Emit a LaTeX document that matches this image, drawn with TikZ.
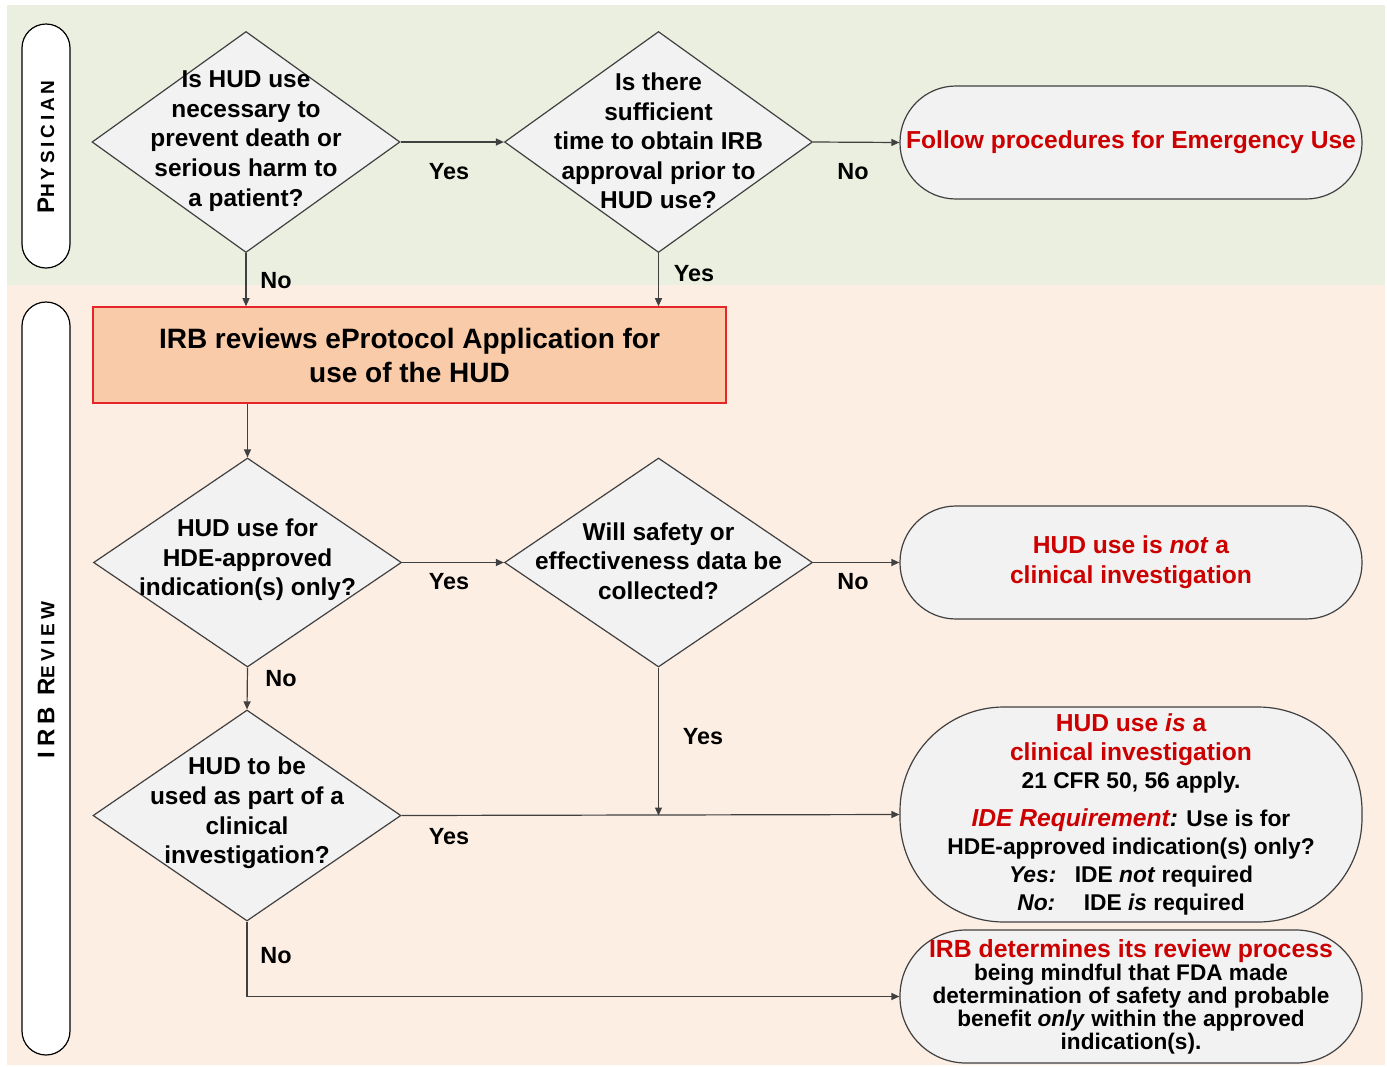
\documentclass[tikz,border=0pt]{standalone}
\usepackage{fontspec}
\setmainfont{Liberation Sans}
\usetikzlibrary{shapes.geometric,arrows.meta}
\definecolor{lanegreen}{HTML}{EBEFDF}
\definecolor{lanepeach}{HTML}{FDEEE3}
\definecolor{shapefill}{HTML}{F2F2F2}
\definecolor{rectfill}{HTML}{F9CBA8}
\definecolor{rectborder}{HTML}{E3262A}
\definecolor{redtext}{HTML}{CC0000}
\definecolor{linegrey}{HTML}{404040}
\begin{document}
\begin{tikzpicture}[x=0.5pt,y=-0.5pt,
  decision/.style={diamond, draw=linegrey, line width=0.6pt, fill=shapefill, inner sep=0pt, minimum width=154pt, minimum height=110.5pt},
  qtext/.style={align=center, font=\fontsize{12.2}{14.8}\selectfont\bfseries, inner sep=0pt},
  termbox/.style={draw=linegrey, line width=0.6pt, fill=shapefill, minimum width=231pt, inner sep=0pt, align=center},
  lanepill/.style={draw=black, line width=0.6pt, fill=white, rounded corners=12pt, minimum width=24pt, inner sep=0pt},
  lanetext/.style={rotate=90, inner sep=0pt},
  conn/.style={draw=linegrey, line width=0.6pt, -{Triangle[length=4pt,width=3.5pt]}},
  lbl/.style={font=\fontsize{11.7}{13}\selectfont\bfseries, inner sep=0pt},
]
\useasboundingbox (0,0) rectangle (1387,1066);
% lanes
\fill[lanegreen] (7,5) rectangle (1385,285);
\fill[lanepeach] (7,285) rectangle (1385,1065);
\node[lanepill, minimum height=122pt] (lp1) at (46,146) {};
\node[lanetext] (lt1) at (46,147) {\addfontfeature{LetterSpace=20}\bfseries\fontsize{12}{13}\selectfont P\fontsize{9.5}{10}\selectfont HYSICIAN};
\node[lanepill, minimum height=376.5pt] (lp2) at (46,678.5) {};
\node[lanetext] (lt2) at (46,680) {\addfontfeature{LetterSpace=20}\bfseries\fontsize{12}{13}\selectfont IRB R\fontsize{9.5}{10}\selectfont EVIEW};

% decisions
\node[decision] (d1) at (246,142) {};
\node[qtext] (t1) at (246,141) {Is HUD use\\necessary to\\prevent death or\\serious harm to\\a patient?};
\node[decision] (d2) at (658.5,142) {};
\node[qtext] (t2) at (658.5,141) {Is there\\sufficient\\time to obtain IRB\\approval prior to\\HUD use?};
\node[decision, minimum height=104.5pt] (d3) at (247.5,562.5) {};
\node[qtext] (t3) at (247.5,560) {HUD use for\\HDE-approved\\indication(s) only?};
\node[decision, minimum height=104.5pt] (d4) at (658.5,562.5) {};
\node[qtext] (t4) at (658.5,561) {Will safety or\\effectiveness data be\\collected?};
\node[decision, minimum height=105.5pt] (d5) at (247,815.5) {};
\node[qtext] (t5) at (247,813) {HUD to be\\used as part of a\\clinical\\investigation?};

% process box
\node[draw=rectborder, fill=rectfill, line width=0.8pt, minimum width=316.5pt, minimum height=48pt, inner sep=0pt, align=center,
  font=\fontsize{14}{17}\selectfont\bfseries] (rv) at (409.5,355) {IRB reviews eProtocol Application for\\use of the HUD};

% terminals
\node[termbox, minimum height=56.5pt, rounded corners=28pt, text=redtext, font=\fontsize{12.3}{14}\selectfont\bfseries] (e1) at (1131,142.5) {Follow procedures for Emergency Use};
\node[termbox, minimum height=56.5pt, rounded corners=28pt, text=redtext, font=\fontsize{12.3}{15}\selectfont\bfseries] (e2) at (1131,562.5) {HUD use is \textit{not} a\\clinical investigation};
\node[termbox, minimum height=107.5pt, rounded corners=52pt, font=\fontsize{11.4}{14}\selectfont\bfseries] (e3) at (1131,814.5) {%
{\fontsize{12.3}{15}\selectfont\color{redtext}HUD use \textit{is} a}\\[0.6pt]
{\fontsize{12.3}{15}\selectfont\color{redtext}clinical investigation}\\
21 CFR 50, 56 apply.\\[5pt]
{\fontsize{12.3}{15}\selectfont\textit{\color{redtext}IDE Requirement}\textit{:}} Use is for\\
HDE-approved indication(s) only?\\
\textit{Yes:}\hspace{5pt} IDE \textit{not} required\\
\textit{No:}\hspace{10pt} IDE \textit{is} required};
\node[termbox, minimum height=66.5pt, rounded corners=33pt, font=\fontsize{11.3}{11.5}\selectfont\bfseries] (e4) at (1131,996.5) {%
{\fontsize{12.4}{14}\selectfont\color{redtext}IRB determines its review process}\\
being mindful that FDA made\\
determination of safety and probable\\
benefit \textit{only} within the approved\\
indication(s).};

% connectors
\draw[conn] (d1.east) -- (d2.west);
\node[lbl] (y1) at (449,172) {Yes};
\draw[conn] (d2.east) -- (e1.west);
\node[lbl] (n1) at (853,172) {No};
\draw[conn] (d1.south) -- (d1.south |- rv.north);
\node[lbl] (n2) at (276,281) {No};
\draw[conn] (d2.south) -- (d2.south |- rv.north);
\node[lbl] (y2) at (694,274) {Yes};
\draw[conn] (d3.north |- rv.south) -- (d3.north);
\draw[conn] (d3.east) -- (d4.west);
\node[lbl] (y3) at (449,582) {Yes};
\draw[conn] (d4.east) -- (e2.west);
\node[lbl] (n3) at (853,582) {No};
\draw[conn] (d3.south) -- (d5.north);
\node[lbl] (n4) at (281,679) {No};
\draw[conn] (d4.south) -- (d4.south |- d5.east);
\node[lbl] (y4) at (703,737) {Yes};
\draw[conn] (d5.east) -- (e3.west);
\node[lbl] (y5) at (449,837) {Yes};
\draw[conn] (d5.south) |- (e4.west);
\node[lbl] (n5) at (276,956) {No};
\end{tikzpicture}
\end{document}
